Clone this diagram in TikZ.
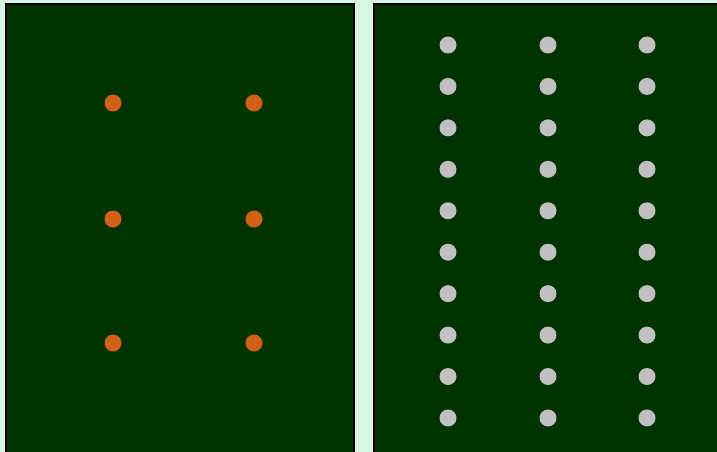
\documentclass[tikz,border=0pt]{standalone}
\usepackage{tikz}
\definecolor{panelgreen}{RGB}{0, 51, 0}
\definecolor{paleground}{RGB}{214, 245, 228}
\definecolor{dotorange}{RGB}{210, 96, 24}
\definecolor{dotgrey}{RGB}{192, 192, 192}

\begin{document}
\begin{tikzpicture}[x=1pt, y=-1pt]
            \useasboundingbox (0,0) rectangle (717,452);
            \fill[paleground] (0,0) rectangle (717,452);
            
            % Panels
            \draw[fill=panelgreen, line width=2pt] (6,4) rectangle (354,470);
            \draw[fill=panelgreen, line width=2pt] (374,4) rectangle (740,470);
            
            % Left dots
            \foreach \x in {113, 254} {
                \foreach \y in {103, 219, 343} {
                    \fill[dotorange] (\x, \y) circle (8.5);
                }
            }
            
            % Right dots
            \foreach \x in {448, 548, 647} {
                \foreach \i in {0,...,9} {
                    \fill[dotgrey] (\x, 45 + 41.44*\i) circle (8.5);
                }
            }
        \end{tikzpicture}
\end{document}
